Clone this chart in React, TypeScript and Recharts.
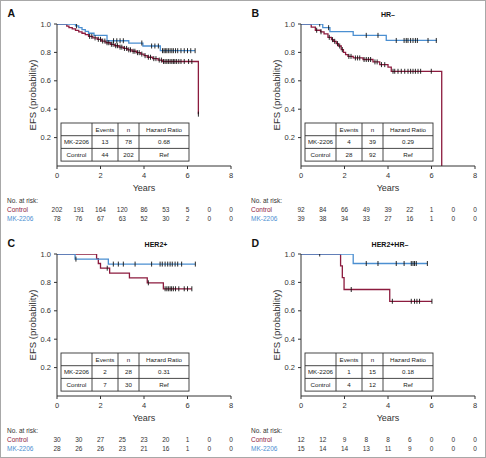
import React from 'react';
import { ComposedChart, Line, Scatter, XAxis, YAxis } from 'recharts';

// ---------- shared axes ----------
const yearTicks = [0, 1, 2, 3, 4, 5, 6, 7, 8];
const labelYears = [0, 2, 4, 6, 8];
const probTicks = [0.2, 0.4, 0.6, 0.8, 1.0];
const hazardHeader = ['', 'Events', 'n', 'Hazard Ratio'];
const groupNames = ['MK-2206', 'Control'];

// ---------- Panel A (all) ----------
const aControlT = [0, 0.45, 0.55, 0.7, 0.85, 1.0, 1.15, 1.3, 1.45, 1.65, 1.85, 2.05, 2.25, 2.45, 2.65, 2.85, 3.05, 3.25, 3.45, 3.65, 3.85, 4.0, 4.15, 4.4, 4.65, 4.85, 6.5];
const aControlS = [1, 0.985, 0.975, 0.965, 0.955, 0.945, 0.935, 0.925, 0.913, 0.902, 0.892, 0.88, 0.868, 0.857, 0.847, 0.837, 0.828, 0.818, 0.808, 0.798, 0.788, 0.777, 0.766, 0.756, 0.746, 0.736, 0.365];
const aControlCensor = [1.5, 1.6, 1.75, 1.9, 2.0, 2.1, 2.2, 2.3, 2.38, 2.5, 2.58, 2.7, 2.78, 2.9, 2.98, 3.1, 3.2, 3.3, 3.38, 3.5, 3.58, 3.7, 3.78, 3.9, 4.05, 4.2, 4.3, 4.45, 4.55, 4.7, 4.8, 4.9, 4.97, 5.05, 5.12, 5.2, 5.28, 5.35, 5.42, 5.5, 5.6, 5.7, 5.85, 6.05, 6.2, 6.5];
const aMkT = [0, 0.85, 1.0, 1.15, 1.3, 1.45, 1.7, 2.3, 3.3, 3.95, 4.75, 6.35];
const aMkS = [1, 0.987, 0.974, 0.961, 0.948, 0.935, 0.92, 0.882, 0.866, 0.845, 0.812, 0.812];
const aMkCensor = [0.9, 2.6, 2.75, 2.9, 3.05, 3.9, 4.35, 4.5, 4.66, 4.85, 4.92, 4.98, 5.05, 5.12, 5.2, 5.28, 5.35, 5.45, 5.55, 5.7, 5.85, 6.0, 6.15, 6.35];
const aRiskControl = [202, 191, 164, 120, 86, 53, 5, 0, 0];
const aRiskMk = [78, 76, 67, 63, 52, 30, 2, 0, 0];
const aEvents = [13, 44];
const aN = [78, 202];
const aHR = ['0.68', 'Ref'];

// ---------- Panel B (HR-) ----------
const bControlT = [0, 0.47, 0.66, 0.9, 1.06, 1.24, 1.4, 1.5, 1.62, 1.72, 1.85, 1.95, 2.05, 2.16, 2.4, 2.85, 3.31, 3.62, 4.0, 4.15, 6.47];
const bControlS = [1, 0.978, 0.956, 0.945, 0.93, 0.906, 0.89, 0.878, 0.862, 0.845, 0.82, 0.8, 0.785, 0.772, 0.761, 0.75, 0.733, 0.714, 0.696, 0.667, 0];
const bControlCensor = [0.72, 0.92, 1.3, 1.45, 1.55, 1.68, 1.78, 1.9, 2.2, 2.3, 2.5, 2.6, 2.7, 2.9, 3.0, 3.1, 3.2, 3.4, 3.5, 3.7, 3.85, 4.23, 4.31, 4.46, 4.61, 4.77, 4.92, 5.04, 5.15, 5.26, 5.38, 5.5, 5.99];
const bMkT = [0, 1.0, 1.33, 2.4, 3.92, 6.25];
const bMkS = [1, 0.974, 0.947, 0.92, 0.884, 0.884];
const bMkCensor = [0.86, 1.27, 3.0, 3.54, 4.38, 4.74, 4.84, 4.92, 5.04, 5.15, 5.26, 5.35, 5.84, 6.22];
const bRiskControl = [92, 84, 66, 49, 39, 22, 1, 0, 0];
const bRiskMk = [39, 38, 34, 33, 27, 16, 1, 0, 0];
const bEvents = [4, 28];
const bN = [39, 92];
const bHR = ['0.29', 'Ref'];

// ---------- Panel C (HER2+) ----------
const cControlT = [0, 1.82, 1.9, 2.0, 2.42, 3.33, 4.15, 4.89, 6.2];
const cControlS = [1, 0.967, 0.933, 0.9, 0.866, 0.832, 0.797, 0.755, 0.755];
const cControlCensor = [2.31, 4.2, 4.97, 5.05, 5.12, 5.2, 5.27, 5.35, 5.45, 5.6, 5.85, 6.0, 6.2];
const cMkT = [0, 0.83, 2.36, 6.36];
const cMkS = [1, 0.964, 0.929, 0.929];
const cMkCensor = [0.87, 2.59, 2.82, 3.05, 3.59, 4.35, 4.74, 4.84, 4.97, 5.09, 5.2, 5.3, 5.43, 5.55, 5.73, 6.36];
const cRiskControl = [30, 30, 27, 25, 23, 20, 1, 0, 0];
const cRiskMk = [28, 26, 26, 23, 21, 16, 1, 0, 0];
const cEvents = [2, 7];
const cN = [28, 30];
const cHR = ['0.31', 'Ref'];

// ---------- Panel D (HER2+HR-) ----------
const dControlT = [0, 1.82, 1.9, 1.98, 4.08, 6.02];
const dControlS = [1, 0.917, 0.833, 0.75, 0.667, 0.667];
const dControlCensor = [2.31, 4.2, 5.07, 5.22, 5.33, 5.45, 6.02];
const dMkT = [0, 2.4, 5.81];
const dMkS = [1, 0.933, 0.933];
const dMkCensor = [0.86, 3.0, 3.54, 4.38, 4.74, 5.07, 5.15, 5.22, 5.3, 5.81];
const dRiskControl = [12, 12, 9, 8, 8, 6, 0, 0, 0];
const dRiskMk = [15, 14, 14, 13, 11, 9, 0, 0, 0];
const dEvents = [1, 4];
const dN = [15, 12];
const dHR = ['0.18', 'Ref'];

// ---------- styling ----------
const CONTROL = '#8c1b3e';
const MK = '#4b8fd1';
const INK = '#333333';
const FONT = '"Liberation Sans", Arial, Helvetica, sans-serif';

function stepRows(t: number[], s: number[]) {
  return t.map((v, i) => ({ t: v, s: s[i] }));
}
function censorRows(c: number[], t: number[], s: number[]) {
  return c.map((ct) => {
    let v = s[0];
    for (let i = 0; i < t.length; i++) if (t[i] <= ct) v = s[i];
    return { t: ct, s: v };
  });
}

const censorShape = (p: any) => (
  <line x1={p.cx} x2={p.cx} y1={p.cy - 2.5} y2={p.cy + 2.5} stroke="#111" strokeWidth={0.9} />
);

type PanelProps = {
  left: number; top: number; height: number;
  letter: string; subtitle: string; subtitleX: number;
  cT: number[]; cS: number[]; cC: number[];
  mT: number[]; mS: number[]; mC: number[];
  riskControl: number[]; riskMk: number[];
  events: number[]; ns: number[]; hrs: string[];
};

function Panel(p: PanelProps) {
  const W = 243, PT = 24, AX = 166, PL = 57, PR = 12;
  const xAxisHeight = p.height - AX;
  const renderTick = (props: any) => {
    const { x, payload } = props;
    const v = payload.value;
    const i = yearTicks.indexOf(v);
    const lab = labelYears.includes(v);
    return (
      <g>
        {lab && <line x1={x} x2={x} y1={AX} y2={AX + 3} stroke={INK} />}
        {lab && (
          <text x={x} y={AX + 12} textAnchor="middle" fontSize={7.5} fill={INK} fontFamily={FONT}>{v}</text>
        )}
        <text x={x} y={AX + 45.5} textAnchor="middle" fontSize={6.5} fill={INK} fontFamily={FONT}>{p.riskControl[i]}</text>
        <text x={x} y={AX + 54.5} textAnchor="middle" fontSize={6.5} fill={INK} fontFamily={FONT}>{p.riskMk[i]}</text>
      </g>
    );
  };
  const tx = PL + 4, ty = 123, rowH = 12.7;
  const colW = [31, 26, 21, 50];
  const colX = [tx, tx + colW[0], tx + colW[0] + colW[1], tx + colW[0] + colW[1] + colW[2], tx + 128];
  const rows = [hazardHeader, [groupNames[0], String(p.events[0]), String(p.ns[0]), p.hrs[0]], [groupNames[1], String(p.events[1]), String(p.ns[1]), p.hrs[1]]];
  return (
    <div style={{ position: 'absolute', left: p.left, top: p.top, width: W, height: p.height }}>
      <ComposedChart width={W} height={p.height} margin={{ top: PT, right: PR, left: 0, bottom: 0 }}>
        <XAxis type="number" dataKey="t" domain={[0, 8]} ticks={yearTicks} interval={0} tick={renderTick}
          tickLine={false} axisLine={{ stroke: INK }} height={xAxisHeight} allowDataOverflow />
        <YAxis type="number" dataKey="s" domain={[0, 1]} ticks={probTicks} interval={0} width={PL}
          tickSize={3} tickMargin={3} tickFormatter={(v: number) => v.toFixed(1)}
          tick={{ fontSize: 7.5, fill: INK, fontFamily: FONT }} tickLine={{ stroke: INK }} axisLine={{ stroke: INK }} allowDataOverflow />
        <Line data={stepRows(p.cT, p.cS)} dataKey="s" type="stepAfter" stroke={CONTROL} strokeWidth={1.3} dot={false} activeDot={false} isAnimationActive={false} />
        <Line data={stepRows(p.mT, p.mS)} dataKey="s" type="stepAfter" stroke={MK} strokeWidth={1.3} dot={false} activeDot={false} isAnimationActive={false} />
        <Scatter data={censorRows(p.cC, p.cT, p.cS)} shape={censorShape} isAnimationActive={false} />
        <Scatter data={censorRows(p.mC, p.mT, p.mS)} shape={censorShape} isAnimationActive={false} />
      </ComposedChart>
      <svg width={W} height={p.height} style={{ position: 'absolute', left: 0, top: 0, pointerEvents: 'none' }} fontFamily={FONT}>
        <text x={7.5} y={16.5} fontSize={10.5} fontWeight="bold" fill="#111">{p.letter}</text>
        {p.subtitle && <text x={p.subtitleX} y={17} fontSize={7} fontWeight="bold" fill="#111" textAnchor="middle">{p.subtitle}</text>}
        <text transform="translate(36,95) rotate(-90)" textAnchor="middle" fontSize={9.5} fill={INK}>EFS (probability)</text>
        <text x={144} y={190.5} textAnchor="middle" fontSize={9} fill={INK}>Years</text>
        <text x={7} y={AX + 36.5} fontSize={6.5} fill={INK}>No. at risk:</text>
        <text x={7} y={AX + 45.5} fontSize={6.5} fill={CONTROL}>Control</text>
        <text x={7} y={AX + 54.5} fontSize={6.5} fill={MK}>MK-2206</text>
        <rect x={tx} y={ty} width={128} height={rowH * 3} fill="#fff" stroke={INK} strokeWidth={0.9} />
        {[1, 2].map((r) => (
          <line key={'r' + r} x1={tx} x2={tx + 128} y1={ty + rowH * r} y2={ty + rowH * r} stroke={INK} strokeWidth={0.9} />
        ))}
        {[1, 2, 3].map((c) => (
          <line key={'c' + c} x1={colX[c]} x2={colX[c]} y1={ty} y2={ty + rowH * 3} stroke={INK} strokeWidth={0.9} />
        ))}
        {rows.map((row, r) =>
          row.map((cell, c) => (
            <text key={r + '-' + c} x={(colX[c] + colX[c + 1]) / 2} y={ty + rowH * r + rowH / 2 + 2.2}
              textAnchor="middle" fontSize={6.2} fill="#222">{cell}</text>
          ))
        )}
      </svg>
    </div>
  );
}

export default function App() {
  return (
    <div style={{ position: 'absolute', left: 0, top: 0, width: 486, height: 458, background: '#fff', overflow: 'hidden' }}>
      <Panel left={0} top={0} height={230} letter="A" subtitle="" subtitleX={144}
        cT={aControlT} cS={aControlS} cC={aControlCensor} mT={aMkT} mS={aMkS} mC={aMkCensor}
        riskControl={aRiskControl} riskMk={aRiskMk} events={aEvents} ns={aN} hrs={aHR} />
      <Panel left={244} top={0} height={230} letter="B" subtitle="HR–" subtitleX={144}
        cT={bControlT} cS={bControlS} cC={bControlCensor} mT={bMkT} mS={bMkS} mC={bMkCensor}
        riskControl={bRiskControl} riskMk={bRiskMk} events={bEvents} ns={bN} hrs={bHR} />
      <Panel left={0} top={230} height={228} letter="C" subtitle="HER2+" subtitleX={156}
        cT={cControlT} cS={cControlS} cC={cControlCensor} mT={cMkT} mS={cMkS} mC={cMkCensor}
        riskControl={cRiskControl} riskMk={cRiskMk} events={cEvents} ns={cN} hrs={cHR} />
      <Panel left={244} top={230} height={228} letter="D" subtitle="HER2+HR–" subtitleX={146}
        cT={dControlT} cS={dControlS} cC={dControlCensor} mT={dMkT} mS={dMkS} mC={dMkCensor}
        riskControl={dRiskControl} riskMk={dRiskMk} events={dEvents} ns={dN} hrs={dHR} />
      <div style={{ position: 'absolute', left: 0, top: 0, width: 486, height: 458, boxSizing: 'border-box', border: '1.5px solid #a8a8a8', pointerEvents: 'none' }} />
    </div>
  );
}
